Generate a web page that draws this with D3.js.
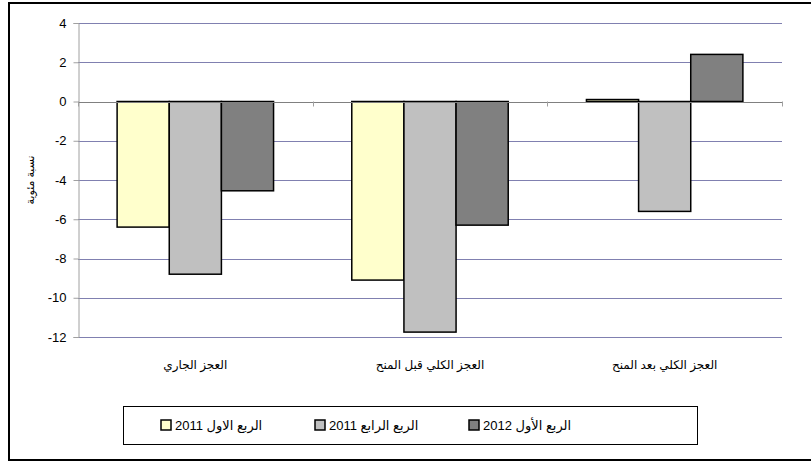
<!DOCTYPE html>
<html>
<head>
<meta charset="utf-8">
<script src="https://cdn.jsdelivr.net/npm/d3@7"></script>
<style>
  body { margin: 0; background: #fff; }
  svg text { font-family: "Liberation Sans", Arial, "DejaVu Sans", sans-serif; }
</style>
</head>
<body>
<div id="chart"></div>
<script>
// categories (Arabic labels), series and values
const categories = ["العجز الجاري", "العجز الكلي قبل المنح", "العجز الكلي بعد المنح"];
const seriesNames = ["الربع الاول 2011", "الربع الرابع 2011", "الربع الأول 2012"];
const seriesColors = ["#ffffcc", "#c0c0c0", "#808080"];
const q1_2011 = [-6.4, -9.1, 0.1];
const q4_2011 = [-8.8, -11.75, -5.6];
const q1_2012 = [-4.55, -6.3, 2.4];
const yTicks = [4, 2, 0, -2, -4, -6, -8, -10, -12];
const yTitle = "نسبة مئوية";

const seriesValues = [q1_2011, q4_2011, q1_2012];

const width = 811, height = 462;
const plot = { left: 78, right: 782, top: 23, bottom: 337 };

const svg = d3.select("#chart").append("svg")
  .attr("width", width)
  .attr("height", height);

// outer frame (right edge runs off the picture)
svg.append("rect")
  .attr("x", 9).attr("y", 3)
  .attr("width", 810).attr("height", 457)
  .attr("fill", "none")
  .attr("stroke", "#000")
  .attr("stroke-width", 2);

const y = d3.scaleLinear().domain([-12, 4]).range([plot.bottom, plot.top]);
const x0 = d3.scaleBand().domain(d3.range(categories.length)).range([plot.left, plot.right]).paddingInner(0).paddingOuter(0);
const barW = x0.bandwidth() / 4.5; // gap width 150%
const x1 = d3.scaleBand().domain(d3.range(seriesNames.length))
  .range([0, barW * 3]);

// gridlines
svg.append("g").selectAll("line")
  .data(yTicks.filter(d => d !== 0))
  .join("line")
  .attr("x1", plot.left).attr("x2", plot.right)
  .attr("y1", d => Math.round(y(d)) + 0.5).attr("y2", d => Math.round(y(d)) + 0.5)
  .attr("stroke", "#8080b0")
  .attr("stroke-width", 1);

// y axis
const yAxis = svg.append("g")
  .attr("transform", `translate(${plot.left + 0.5},0)`)
  .call(d3.axisLeft(y).tickValues(yTicks).tickSize(5).tickPadding(7).tickFormat(d3.format("d")));
yAxis.select(".domain").attr("stroke", "#a0a0a0");
yAxis.selectAll(".tick line").attr("stroke", "#a0a0a0");
yAxis.selectAll(".tick text")
  .attr("font-size", 13)
  .attr("fill", "#000")
  .text(d => d < 0 ? "-" + Math.abs(d) : d);

// y title
svg.append("text")
  .attr("transform", `translate(34,${(plot.top + plot.bottom) / 2}) rotate(-90)`)
  .attr("text-anchor", "middle")
  .attr("font-size", 11)
  .attr("font-family", "DejaVu Sans, sans-serif")
  .text(yTitle);

// bars
const groups = svg.append("g").selectAll("g")
  .data(categories.map((c, i) => ({ i, values: seriesValues.map(s => s[i]) })))
  .join("g")
  .attr("transform", d => `translate(${x0(d.i) + (x0.bandwidth() - barW * 3) / 2},0)`);

groups.selectAll("rect")
  .data(d => d.values)
  .join("rect")
  .attr("x", (d, j) => x1(j))
  .attr("width", x1.bandwidth())
  .attr("y", d => y(Math.max(0, d)))
  .attr("height", d => Math.abs(y(d) - y(0)))
  .attr("fill", (d, j) => seriesColors[j])
  .attr("stroke", "#000")
  .attr("stroke-width", 1.5);

// zero line and category ticks
svg.append("line")
  .attr("x1", plot.left).attr("x2", plot.right)
  .attr("y1", Math.round(y(0)) + 0.5).attr("y2", Math.round(y(0)) + 0.5)
  .attr("stroke", "#808080");
svg.append("g").selectAll("line")
  .data(d3.range(categories.length + 1))
  .join("line")
  .attr("x1", i => Math.round(plot.left + i * x0.bandwidth()) + 0.5)
  .attr("x2", i => Math.round(plot.left + i * x0.bandwidth()) + 0.5)
  .attr("y1", y(0)).attr("y2", y(0) + 5)
  .attr("stroke", "#a0a0a0");

// category labels
svg.append("g").selectAll("text")
  .data(categories)
  .join("text")
  .attr("x", (d, i) => x0(i) + x0.bandwidth() / 2)
  .attr("y", 369)
  .attr("text-anchor", "middle")
  .attr("font-size", 12)
  .attr("font-family", "DejaVu Sans, sans-serif")
  .text(d => d);

// legend
const legend = svg.append("g");
legend.append("rect")
  .attr("x", 123.5).attr("y", 406.5)
  .attr("width", 574).attr("height", 38)
  .attr("fill", "#fff")
  .attr("stroke", "#000")
  .attr("stroke-width", 1);

const legendX = [161, 315, 469];
const items = legend.selectAll("g.item")
  .data(seriesNames)
  .join("g")
  .attr("class", "item")
  .attr("transform", (d, i) => `translate(${legendX[i]},420)`);
items.append("rect")
  .attr("width", 10).attr("height", 10)
  .attr("fill", (d, i) => seriesColors[i])
  .attr("stroke", "#000")
  .attr("stroke-width", 1.5);
items.append("text")
  .attr("x", 14)
  .attr("y", 10)
  .attr("direction", "rtl")
  .attr("text-anchor", "end")
  .attr("font-size", 13)
  .attr("font-family", "DejaVu Sans, sans-serif")
  .text(d => d);
</script>
</body>
</html>
